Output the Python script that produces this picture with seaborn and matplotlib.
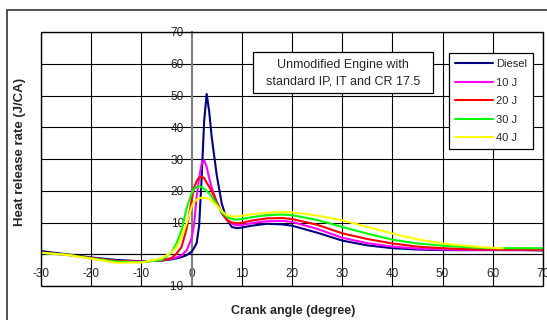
import numpy as np
import pandas as pd
import matplotlib
matplotlib.use("Agg")
import matplotlib.pyplot as plt
from matplotlib.patches import Rectangle
import seaborn as sns

# dati (angolo di manovella, rilascio di calore J/CA)
crank_angle = [-31, -30, -25, -20, -15, -10, -6, -4, -3, -2, -1, 0, 0.5, 1, 1.5, 2, 2.5, 3, 3.5,
               4, 5, 6, 7, 8, 9, 10, 12, 15, 18, 20, 25, 30, 35, 40, 45, 50, 55, 60, 62, 65, 70]
nan = np.nan
diesel = [nan, 1.0, 0.0, -1.0, -1.8, -2.2, -2.0, -1.6, -1.3, -0.9, -0.3, 0.8, 2.0, 3.5, 9.0, 24.0, 42.0,
          50.5, 45.0, 37.0, 25.0, 16.0, 11.0, 8.6, 8.2, 8.4, 9.0, 9.6, 9.4, 9.0, 6.8, 4.3, 2.8, 1.9, 1.5,
          1.3, 1.3, 1.3, 1.3, 1.3, 1.2]
j10 = [nan, 0.5, -0.2, -1.2, -2.1, -2.3, -1.9, -1.4, -1.0, -0.3, 1.2, 5.0, 9.5, 18.0, 24.0, 28.5, 29.6,
       27.5, 24.0, 21.0, 16.5, 13.0, 11.0, 9.6, 9.1, 9.2, 9.8, 10.4, 10.5, 10.2, 8.0, 5.2, 3.5, 2.4, 1.8,
       1.5, 1.4, 1.4, 1.4, 1.4, 1.3]
j20 = [nan, 0.5, -0.1, -1.2, -2.1, -2.4, -1.9, -1.2, 0.2, 2.3, 8.0, 17.0, 21.0, 23.0, 24.2, 24.4, 24.0,
       22.5, 21.3, 19.8, 16.5, 13.0, 10.8, 10.0, 9.8, 9.9, 10.6, 11.3, 11.4, 11.1, 9.3, 6.6, 4.8, 3.4, 2.4,
       1.9, 1.6, 1.5, 1.5, 1.5, 1.4]
j30 = [0.4, 0.4, -0.1, -1.3, -2.3, -2.5, -1.8, 0.6, 3.5, 7.6, 14.5, 19.1, 20.5, 21.2, 21.4, 21.1, 20.6,
       19.9, 19.2, 18.2, 15.8, 13.2, 11.8, 11.1, 10.9, 11.1, 11.7, 12.3, 12.5, 12.3, 10.8, 8.6, 6.5, 4.6,
       3.4, 2.7, 2.2, 1.9, 1.9, 1.9, 1.9]
j40 = [nan, 0.5, -0.2, -1.4, -2.7, -2.6, -1.3, 0.6, 2.2, 5.5, 9.7, 15.0, 16.5, 17.2, 17.6, 17.8, 17.8,
       17.7, 17.4, 16.8, 15.3, 13.6, 12.3, 11.9, 11.9, 12.1, 12.6, 13.1, 13.3, 13.2, 12.2, 10.7, 8.6, 6.5,
       4.7, 3.4, 2.6, 2.0, 1.9, nan, nan]

series_names = ["Diesel", "10 J", "20 J", "30 J", "40 J"]
series_colors = ["#000080", "#ff00ff", "#ff0000", "#00ff00", "#ffff00"]
x_ticks = [-30, -20, -10, 0, 10, 20, 30, 40, 50, 60, 70]
y_ticks = [-10, 10, 20, 30, 40, 50, 60, 70]

rows = []
for name, vals in zip(series_names, [diesel, j10, j20, j30, j40]):
    for a, v in zip(crank_angle, vals):
        rows.append((a, v, name))
df = pd.DataFrame(rows, columns=["angle", "hrr", "fuel"]).dropna()

sns.set_style("white")
plt.rcParams["font.family"] = ["Liberation Sans", "DejaVu Sans"]
plt.rcParams["axes.unicode_minus"] = False

W, H = 547, 320
fig = plt.figure(figsize=(W / 100, H / 100), dpi=100)
ax = fig.add_axes([41 / W, 1 - 286 / H, (543 - 41) / W, (286 - 32) / H])

# cornice esterna
fig.patches.append(Rectangle((7 / W, -0.1), 1.2, 1 - 10 / H + 0.1, transform=fig.transFigure,
                             fill=False, ec="#222222", lw=1.1))

# griglia nera ogni 10
for gx in np.arange(-30, 71, 10):
    if gx != 0:
        ax.axvline(gx, color="black", lw=0.8, zorder=0.5)
for gy in np.arange(-10, 71, 10):
    ax.axhline(gy, color="black", lw=0.8, zorder=0.5)

sns.lineplot(data=df, x="angle", y="hrr", hue="fuel", hue_order=series_names,
             palette=series_colors, estimator=None, errorbar=None, linewidth=1.5, ax=ax)
for ln in ax.lines[-5:]:
    ln.set_clip_on(False)

ax.set_xlim(-30, 70)
ax.set_ylim(-10, 70)
ax.set_xticks(x_ticks)
ax.set_yticks(y_ticks)
ax.set_xlabel("")
ax.set_ylabel("")

ax.spines["left"].set_position(("data", 0))
ax.spines["left"].set_color("#808080")
ax.spines["left"].set_linewidth(1.5)
ax.spines["left"].set_zorder(0.8)
ax.spines["bottom"].set_position(("data", 0))
ax.spines["bottom"].set_color("black")
ax.spines["bottom"].set_linewidth(0.8)
ax.spines["bottom"].set_zorder(0.8)
for s in ["top", "right"]:
    ax.spines[s].set_visible(False)
ax.add_patch(Rectangle((0, 0), 1, 1, transform=ax.transAxes, fill=False, ec="black", lw=1.0,
                       clip_on=False, zorder=3))

ax.tick_params(axis="x", length=3, direction="out", pad=7, labelsize=8.5, color="black")
ax.tick_params(axis="y", length=3, direction="inout", pad=4, labelsize=8.5, color="black")

fig.text(20 / W, 1 - 152 / H, "Heat release rate (J/CA)", rotation=90, ha="center", va="center",
         fontsize=9.5, fontweight="bold")
fig.text(293 / W, 1 - 311 / H, "Crank angle (degree)", ha="center", va="center",
         fontsize=9, fontweight="bold")

# riquadro di testo
fig.patches.append(Rectangle((253 / W, 1 - 93 / H), 180 / W, 41 / H, transform=fig.transFigure,
                             fc="white", ec="black", lw=0.9, zorder=5))
fig.text(343 / W, 1 - 73 / H, "Unmodified Engine with\nstandard IP, IT and CR 17.5", ha="center",
         va="center", fontsize=9, linespacing=1.45, zorder=6)

leg = ax.legend(loc="upper left", bbox_to_anchor=(449 / W, 1 - 53 / H), bbox_transform=fig.transFigure,
                borderaxespad=0, fontsize=8, frameon=True, fancybox=False, shadow=False,
                handlelength=3.4, handletextpad=0.25, labelspacing=0.77, borderpad=0.55)
leg.get_frame().set_edgecolor("black")
leg.get_frame().set_linewidth(0.9)
leg.get_frame().set_alpha(1)
leg.set_zorder(10)
for h in leg.get_lines():
    h.set_linewidth(1.5)

fig.savefig("out.png", dpi=100)
